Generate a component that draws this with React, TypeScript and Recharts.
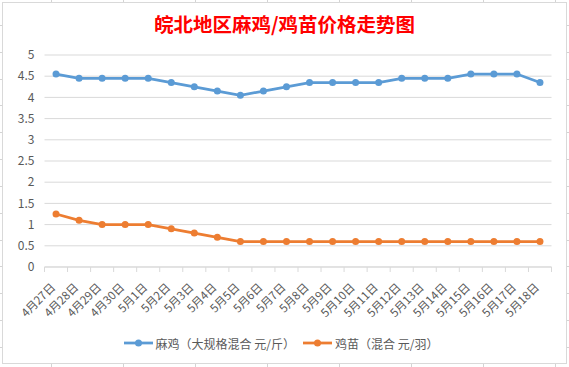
import React from 'react';
import { LineChart, Line, XAxis, YAxis, CartesianGrid, Legend } from 'recharts';

const categories = [
  '4月27日', '4月28日', '4月29日', '4月30日',
  '5月1日', '5月2日', '5月3日', '5月4日', '5月5日', '5月6日', '5月7日', '5月8日', '5月9日',
  '5月10日', '5月11日', '5月12日', '5月13日', '5月14日', '5月15日', '5月16日', '5月17日', '5月18日',
];
const majiPrices = [4.55, 4.45, 4.45, 4.45, 4.45, 4.35, 4.25, 4.15, 4.05, 4.15, 4.25, 4.35, 4.35, 4.35, 4.35, 4.45, 4.45, 4.45, 4.55, 4.55, 4.55, 4.35];
const jimiaoPrices = [1.25, 1.1, 1.0, 1.0, 1.0, 0.9, 0.8, 0.7, 0.6, 0.6, 0.6, 0.6, 0.6, 0.6, 0.6, 0.6, 0.6, 0.6, 0.6, 0.6, 0.6, 0.6];
const yTicks = [0, 0.5, 1, 1.5, 2, 2.5, 3, 3.5, 4, 4.5, 5];
const seriesNames = ['麻鸡（大规格混合 元/斤）', '鸡苗（混合 元/羽）'];
const titleText = '皖北地区麻鸡/鸡苗价格走势图';

const COLORS = ['#5B9BD5', '#ED7D31'];
const W = 569;
const H = 367;
const MARGIN = { top: 55, right: 17.5, bottom: 11, left: 4.5 };
const YAXIS_W = 40;
const PLOT_W = W - MARGIN.left - MARGIN.right - YAXIS_W;
const HALF_BAND = PLOT_W / categories.length / 2;
const FONT = '"Noto Sans CJK SC", "Noto Sans", sans-serif';
const GRID = '#d9d9d9';
const TEXT = '#595959';

const data = categories.map((c, i) => ({ idx: i, cat: c, maji: majiPrices[i], jimiao: jimiaoPrices[i] }));

const sheetCols = [51, 123, 195, 267, 339, 411, 483, 555];
const sheetRows = [25, 52, 79, 105, 132, 159, 186, 213, 240, 266, 293, 320, 347];

function XTick(props: any) {
  const { x, y, payload } = props;
  const i = payload.value as number;
  const label = categories[i];
  const ax = x;
  const ay = y + 21;
  return (
    <g>
      <line x1={x - HALF_BAND} y1={y} x2={x - HALF_BAND} y2={y + 5} stroke={GRID} />
      {i === categories.length - 1 && (
        <line x1={x + HALF_BAND} y1={y} x2={x + HALF_BAND} y2={y + 5} stroke={GRID} />
      )}
      <text
        x={ax}
        y={ay}
        textAnchor="end"
        transform={`rotate(-45, ${ax}, ${ay})`}
        fontSize={11.5}
        fill={TEXT}
        fontFamily={FONT}
      >
        {label}
      </text>
    </g>
  );
}

function LegendContent() {
  return (
    <div
      style={{
        display: 'flex',
        justifyContent: 'center',
        alignItems: 'center',
        height: 26,
        width: W,
        paddingRight: 7,
        boxSizing: 'border-box',
        fontFamily: FONT,
        fontSize: 12,
        color: TEXT,
      }}
    >
      {seriesNames.map((n, k) => (
        <div key={n} style={{ display: 'flex', alignItems: 'center', marginLeft: k === 0 ? 0 : 8 }}>
          <svg width={29} height={10}>
            <line x1={0} y1={5} x2={29} y2={5} stroke={COLORS[k]} strokeWidth={2.75} />
            <circle cx={14.5} cy={5} r={3.5} fill={COLORS[k]} />
          </svg>
          <span style={{ marginLeft: 3, whiteSpace: 'nowrap' }}>{n}</span>
        </div>
      ))}
    </div>
  );
}

export default function App() {
  return (
    <div style={{ position: 'absolute', left: 0, top: 0, width: W, height: H, background: '#fff', overflow: 'hidden' }}>
      {sheetCols.map((x) => (
        <div key={'c' + x} style={{ position: 'absolute', left: x, top: 0, width: 1, height: H, background: '#d4d4d4' }} />
      ))}
      {sheetRows.map((y) => (
        <div key={'r' + y} style={{ position: 'absolute', left: 0, top: y, width: W, height: 1, background: '#d4d4d4' }} />
      ))}
      <div
        style={{
          position: 'absolute',
          left: 2,
          top: 2,
          width: 565,
          height: 362,
          border: '1px solid #d9d9d9',
          boxSizing: 'border-box',
          background: '#fff',
        }}
      />
      <svg style={{ position: 'absolute', left: 0, top: 0 }} width={W} height={50}>
        <text x={284.5} y={32} textAnchor="middle" fontSize={19.5} fontWeight="bold" fill="#FF0000" fontFamily={FONT}>
          {titleText}
        </text>
      </svg>
      <div style={{ position: 'absolute', left: 0, top: 0 }}>
        <LineChart width={W} height={H} data={data} margin={MARGIN}>
          <CartesianGrid horizontal vertical={false} stroke={GRID} />
          <XAxis
            dataKey="idx"
            type="number"
            domain={[-0.5, categories.length - 0.5]}
            ticks={categories.map((_, i) => i)}
            interval={0}
            height={63}
            axisLine={{ stroke: GRID }}
            tickLine={false}
            tickSize={0}
            tickMargin={0}
            tick={<XTick />}
          />
          <YAxis
            width={YAXIS_W}
            domain={[0, 5]}
            ticks={yTicks}
            interval={0}
            axisLine={false}
            tickLine={false}
            tickMargin={4}
            tick={{ fontSize: 12, fill: TEXT, fontFamily: FONT }}
          />
          <Legend
            verticalAlign="bottom"
            height={26}
            wrapperStyle={{ left: 0, width: W, height: 26 }}
            content={<LegendContent />}
          />
          <Line
            dataKey="maji"
            name={seriesNames[0]}
            stroke={COLORS[0]}
            strokeWidth={2.75}
            dot={{ r: 3.5, fill: COLORS[0], stroke: COLORS[0], strokeWidth: 0 }}
            activeDot={false}
            isAnimationActive={false}
          />
          <Line
            dataKey="jimiao"
            name={seriesNames[1]}
            stroke={COLORS[1]}
            strokeWidth={2.75}
            dot={{ r: 3.5, fill: COLORS[1], stroke: COLORS[1], strokeWidth: 0 }}
            activeDot={false}
            isAnimationActive={false}
          />
        </LineChart>
      </div>
    </div>
  );
}
